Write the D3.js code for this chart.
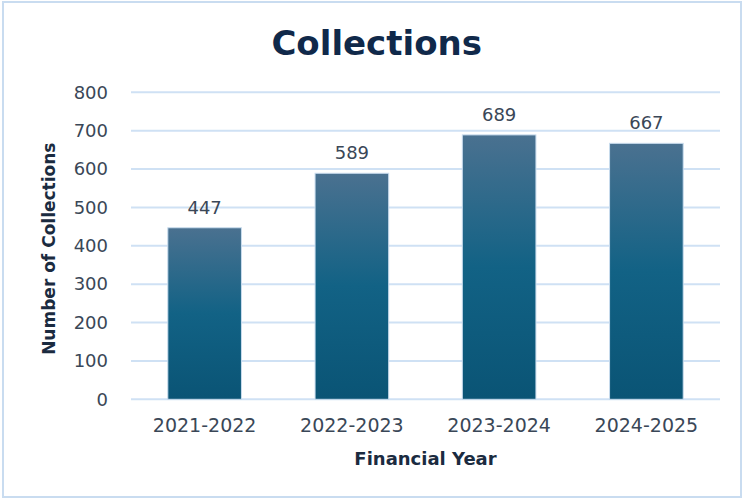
<!DOCTYPE html>
<html>
<head>
<meta charset="utf-8">
<script src="https://cdn.jsdelivr.net/npm/d3@7"></script>
<style>
  body { margin: 0; background: #fff; }
  svg { display: block; }
</style>
</head>
<body>
<div id="chart"></div>
<script>
// values
var years = ['2021-2022', '2022-2023', '2023-2024', '2024-2025'];
var collections = [447, 589, 689, 667];
var yTicks = [0, 100, 200, 300, 400, 500, 600, 700, 800];

var width = 743;
var height = 499;
var margin = {top: 92.3, right: 23, bottom: 99.7, left: 131};

var svg = d3.select('#chart').append('svg')
  .attr('width', width)
  .attr('height', height);

// outer frame
svg.append('rect')
  .attr('x', 3).attr('y', 2)
  .attr('width', 738).attr('height', 495)
  .attr('fill', '#fff')
  .attr('stroke', '#c9dcf0')
  .attr('stroke-width', 2);

var defs = svg.append('defs');
var grad = defs.append('linearGradient')
  .attr('id', 'barGrad')
  .attr('x1', 0).attr('y1', 0).attr('x2', 0).attr('y2', 1);
grad.append('stop').attr('offset', '0%').attr('stop-color', '#4a7190');
grad.append('stop').attr('offset', '50%').attr('stop-color', '#126285');
grad.append('stop').attr('offset', '100%').attr('stop-color', '#0a5475');

var x = d3.scaleBand()
  .domain(years)
  .range([margin.left, width - margin.right])
  .paddingInner(0.5)
  .paddingOuter(0.25);

var y = d3.scaleLinear()
  .domain([0, 800])
  .range([height - margin.bottom, margin.top]);

// gridlines
svg.append('g')
  .selectAll('line')
  .data(yTicks)
  .enter().append('line')
  .attr('x1', margin.left)
  .attr('x2', width - margin.right)
  .attr('y1', function(d) { return y(d); })
  .attr('y2', function(d) { return y(d); })
  .attr('stroke', '#cfe1f4')
  .attr('stroke-width', 2);

// y tick labels
var yAxis = svg.append('g')
  .attr('transform', 'translate(' + margin.left + ',0)')
  .call(d3.axisLeft(y).tickValues(yTicks).tickSize(0).tickPadding(23));
yAxis.select('.domain').remove();
yAxis.selectAll('text')
  .attr('font-family', 'DejaVu Sans, sans-serif')
  .attr('font-size', 18)
  .attr('fill', '#3a4757');

// x tick labels
var xAxis = svg.append('g')
  .attr('transform', 'translate(0,' + (height - margin.bottom) + ')')
  .call(d3.axisBottom(x).tickSize(0).tickPadding(19));
xAxis.select('.domain').remove();
xAxis.selectAll('text')
  .attr('font-family', 'DejaVu Sans, sans-serif')
  .attr('font-size', 19)
  .attr('fill', '#3a4757');

// bars
svg.append('g')
  .selectAll('rect')
  .data(collections)
  .enter().append('rect')
  .attr('x', function(d, i) { return x(years[i]); })
  .attr('y', function(d) { return y(d); })
  .attr('width', x.bandwidth())
  .attr('height', function(d) { return y(0) - y(d); })
  .attr('fill', 'url(#barGrad)')
  .attr('stroke', '#c9dcee')
  .attr('stroke-width', 1);

// value labels
svg.append('g')
  .selectAll('text')
  .data(collections)
  .enter().append('text')
  .attr('x', function(d, i) { return x(years[i]) + x.bandwidth() / 2; })
  .attr('y', function(d) { return y(d) - 14; })
  .attr('text-anchor', 'middle')
  .attr('font-family', 'DejaVu Sans, sans-serif')
  .attr('font-size', 18)
  .attr('fill', '#3a4757')
  .text(function(d) { return d; });

// title
svg.append('text')
  .attr('x', 376.7)
  .attr('y', 55)
  .attr('text-anchor', 'middle')
  .attr('font-family', 'DejaVu Sans, sans-serif')
  .attr('font-weight', 'bold')
  .attr('font-size', 34)
  .attr('fill', '#10294a')
  .text('Collections');

// axis titles
svg.append('text')
  .attr('x', 425.5)
  .attr('y', 465)
  .attr('text-anchor', 'middle')
  .attr('font-family', 'DejaVu Sans, sans-serif')
  .attr('font-weight', 'bold')
  .attr('font-size', 18)
  .attr('fill', '#1b2b40')
  .text('Financial Year');

svg.append('text')
  .attr('transform', 'translate(55,248.7) rotate(-90)')
  .attr('text-anchor', 'middle')
  .attr('font-family', 'DejaVu Sans, sans-serif')
  .attr('font-weight', 'bold')
  .attr('font-size', 17)
  .attr('fill', '#1b2b40')
  .text('Number of Collections');
</script>
</body>
</html>
